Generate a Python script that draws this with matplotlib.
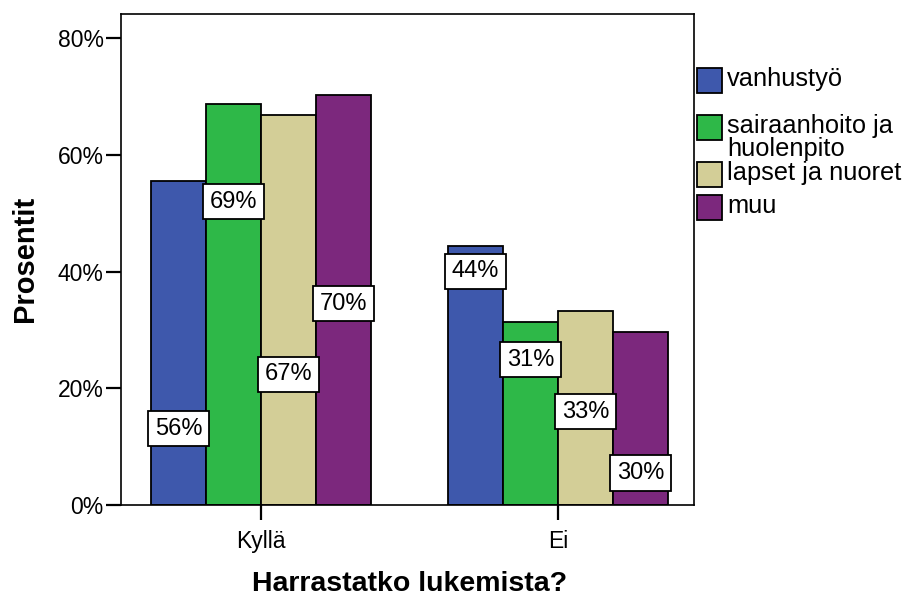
import matplotlib.pyplot as plt
from matplotlib.patches import Rectangle
import numpy as np

plt.rcParams['font.family'] = ['Liberation Sans', 'DejaVu Sans']

# dane (procenty w kazdej serii)
kategorie = ['Kyllä', 'Ei']
serie = ['vanhustyö', 'sairaanhoito ja\nhuolenpito', 'lapset ja nuoret', 'muu']
wartosci = [
    [55.6, 44.4],
    [68.7, 31.3],
    [66.8, 33.2],
    [70.3, 29.7],
]
etykiety = [
    ['56%', '44%'],
    ['69%', '31%'],
    ['67%', '33%'],
    ['70%', '30%'],
]
# wysokosc etykiet (SPSS rozklada je tak zeby sie nie nakladaly)
poz_etykiet = [
    [13.1, 40.1],
    [52.0, 24.9],
    [22.4, 16.0],
    [34.5, 5.5],
]
kolory = ['#3E58AC', '#2EB848', '#D3CE97', '#7C287D']

W, H = 906, 598
fig = plt.figure(figsize=(W / 100, H / 100), dpi=100)
ax = fig.add_axes([121 / W, 1 - 505 / H, 573 / W, 491 / H])

x = np.arange(len(kategorie))
szer = 0.185
for i, nazwa in enumerate(serie):
    xs = x + (i - 1.5) * szer
    ax.bar(xs, wartosci[i], width=szer, color=kolory[i], edgecolor='black',
           linewidth=1.3, zorder=2)
    for j in range(len(kategorie)):
        ax.text(xs[j], poz_etykiet[i][j], etykiety[i][j], ha='center', va='center',
                fontsize=17, zorder=3,
                bbox=dict(boxstyle='square,pad=0.28', facecolor='white',
                          edgecolor='black', linewidth=1.3))

ax.set_xlim(-0.471, 1.458)
ax.set_ylim(0, 84.2)
ax.set_yticks([0, 20, 40, 60, 80])
ax.set_yticklabels(['0%', '20%', '40%', '60%', '80%'], fontsize=16.5)
ax.set_xticks(x)
ax.set_xticklabels(kategorie, fontsize=16.5)
ax.tick_params(axis='both', direction='out', length=11, width=1.6)
ax.tick_params(axis='y', pad=1.5)
ax.tick_params(axis='x', pad=7)
for s in ax.spines.values():
    s.set_linewidth(1.2)

ax.set_ylabel('Prosentit', fontsize=21, fontweight='bold')
ax.yaxis.set_label_coords(-0.143, 0.501)
ax.set_xlabel('Harrastatko lukemista?', fontsize=20.5, fontweight='bold', va='baseline')
ax.xaxis.set_label_coords(0.503, -0.175)

# legenda rysowana recznie (SPSS wyrownuje kwadrat do pierwszej linii tekstu)
leg_gora = [68, 115, 162, 195]
for i, nazwa in enumerate(serie):
    y0 = leg_gora[i]
    fig.patches.append(Rectangle((697 / W, 1 - (y0 + 25) / H), 25 / W, 25 / H,
                                 transform=fig.transFigure, facecolor=kolory[i],
                                 edgecolor='black', linewidth=1.3))
    fig.text(727 / W, 1 - (y0 - 1) / H, nazwa, ha='left', va='top',
             fontsize=18.3, linespacing=0.93)

plt.savefig('out.png', dpi=100)
plt.close()
